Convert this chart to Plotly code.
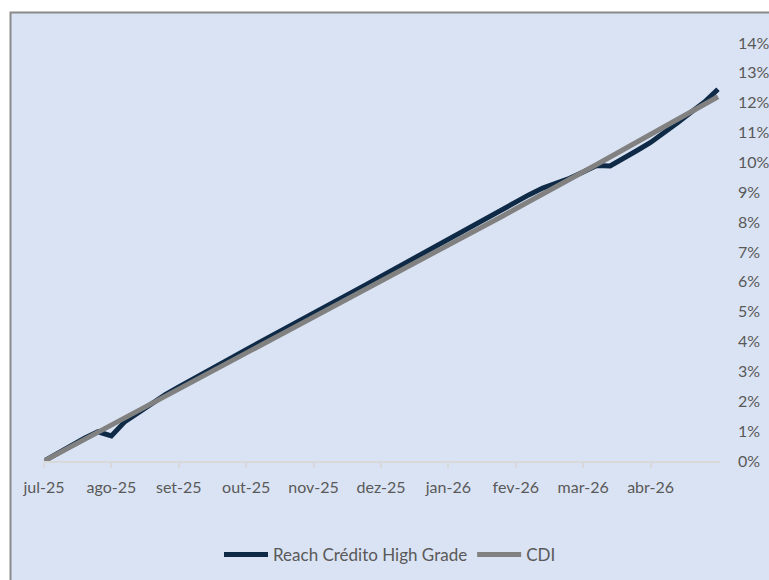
import plotly.graph_objects as go

# Month labels shown on the category axis (one label every 5 observations)
month_labels = ["jul-25", "ago-25", "set-25", "out-25", "nov-25",
                "dez-25", "jan-26", "fev-26", "mar-26", "abr-26"]
points_per_label = 5

reach = [0.00, 0.26, 0.52, 0.76, 0.98, 0.84, 1.32, 1.63, 1.95, 2.22,
         2.48, 2.74, 2.99, 3.23, 3.48, 3.73, 3.97, 4.21, 4.46, 4.70,
         4.94, 5.19, 5.43, 5.68, 5.93, 6.18, 6.43, 6.68, 6.93, 7.18,
         7.43, 7.69, 7.94, 8.19, 8.44, 8.68, 8.92, 9.14, 9.30, 9.47,
         9.68, 9.90, 9.88, 10.12, 10.40, 10.67, 10.98, 11.33, 11.68, 12.02,
         12.45]
cdi = [0.00, 0.24, 0.48, 0.72, 0.96, 1.20, 1.44, 1.68, 1.92, 2.16,
       2.40, 2.64, 2.88, 3.12, 3.36, 3.60, 3.84, 4.08, 4.32, 4.56,
       4.80, 5.04, 5.28, 5.52, 5.77, 6.01, 6.25, 6.49, 6.74, 6.98,
       7.22, 7.47, 7.71, 7.96, 8.20, 8.45, 8.69, 8.94, 9.19, 9.43,
       9.68, 9.93, 10.18, 10.43, 10.68, 10.93, 11.18, 11.43, 11.69, 11.94,
       12.20]

series_names = ["Reach Crédito High Grade", "CDI"]
colors = ["#0f2a46", "#818181"]

x = list(range(len(cdi)))
tickvals = [i * points_per_label for i in range(len(month_labels))]

W, H = 769, 580
# plot area in page pixels
PX_L, PX_R, PX_T, PX_B = 44, 720, 43, 461
L, T, R, B = PX_L, PX_T, W - PX_R, H - PX_B
pw, ph = W - L - R, H - T - B

def px_to_paper_x(px):
    return (px - PX_L) / pw

def px_to_paper_y(py):
    return (PX_B - py) / ph

bg = "#dae3f3"
txt = "#595959"
font_family = "Lato, 'Open Sans', sans-serif"

fig = go.Figure()
for name, vals, col in zip(series_names, [reach, cdi], colors):
    fig.add_trace(go.Scatter(x=x, y=vals, mode="lines", name=name,
                             line=dict(color=col, width=5)))

fig.update_layout(
    width=W, height=H,
    margin=dict(l=L, r=R, t=T, b=B, pad=0, autoexpand=False),
    paper_bgcolor="white",
    plot_bgcolor=bg,
    font=dict(family=font_family, size=16, color=txt),
    showlegend=True,
    legend=dict(orientation="h", x=px_to_paper_x(390), y=px_to_paper_y(555),
                xanchor="center", yanchor="middle",
                bgcolor="rgba(0,0,0,0)", font=dict(size=17, color=txt),
                itemwidth=44, tracegroupgap=0),
    shapes=[dict(type="rect", xref="paper", yref="paper",
                 x0=px_to_paper_x(10.5), x1=px_to_paper_x(820),
                 y0=px_to_paper_y(12.5), y1=px_to_paper_y(640),
                 fillcolor=bg, line=dict(color="#8a8a8a", width=2),
                 layer="below")],
)

fig.update_xaxes(
    range=[0, len(cdi) - 1 + 0.15], automargin=False,
    tickmode="array", tickvals=tickvals, ticktext=month_labels,
    showgrid=False, zeroline=False,
    showline=True, linecolor="#d9d9d9", linewidth=1.5,
    ticks="outside", ticklen=5, tickcolor="#d9d9d9", tickwidth=1.5,
    ticklabelstandoff=6,
    tickfont=dict(size=16, color=txt),
)
fig.update_yaxes(
    range=[0, 14], dtick=1, side="right", ticksuffix="%", automargin=False,
    showgrid=False, zeroline=False, showline=False, ticks="",
    ticklabelstandoff=17,
    tickfont=dict(size=16, color=txt),
)

fig.write_html(
    "out.html",
    config={"displayModeBar": False},
    post_script="document.body.style.margin='0';document.body.style.overflow='hidden';",
)
